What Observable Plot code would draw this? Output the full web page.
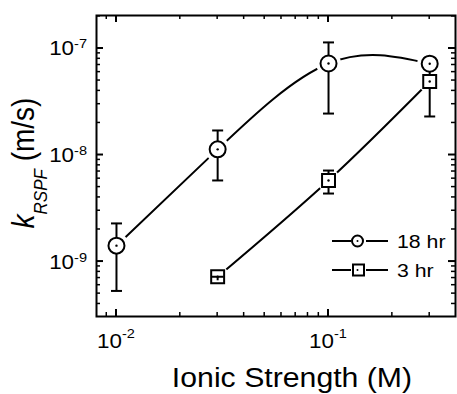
<!DOCTYPE html>
<html><head><meta charset="utf-8">
<script src="https://cdn.jsdelivr.net/npm/d3@7"></script>
<script src="https://cdn.jsdelivr.net/npm/@observablehq/plot@0.6"></script>
<style>body{margin:0;background:#fff}</style>
</head><body><div id="chart"></div>
<script>
// Data
const ionic18 = [0.01, 0.03, 0.1, 0.3];
const k18 = [1.41e-9, 1.13e-8, 7.23e-8, 7.2e-8];
const k18lo = [5.3e-10, 5.77e-9, 2.45e-8, 6.4e-8];
const k18hi = [2.28e-9, 1.70e-8, 1.14e-7, 8.2e-8];
const ionic3 = [0.03, 0.1, 0.3];
const k3 = [7.2e-10, 5.77e-9, 4.9e-8];
const k3lo = [6.6e-10, 4.35e-9, 2.3e-8];
const k3hi = [7.2e-10, 7.15e-9, 7.4e-8];
const seriesNames = ["18 hr", "3 hr"];
const xMajor = [0.01, 0.1];
const xMajorExp = ["-2", "-1"];
const xMinor = [0.009, 0.02, 0.03, 0.04, 0.05, 0.06, 0.07, 0.08, 0.09, 0.2, 0.3];
const yMajor = [1e-9, 1e-8, 1e-7];
const yMajorExp = ["-9", "-8", "-7"];
const yMinor = [4e-10, 5e-10, 6e-10, 7e-10, 8e-10, 9e-10,
  2e-9, 3e-9, 4e-9, 5e-9, 6e-9, 7e-9, 8e-9, 9e-9,
  2e-8, 3e-8, 4e-8, 5e-8, 6e-8, 7e-8, 8e-8, 9e-8, 2e-7];

const s18 = ionic18.map((x, i) => ({x, k: k18[i], lo: k18lo[i], hi: k18hi[i], s: seriesNames[0]}));
const s3 = ionic3.map((x, i) => ({x, k: k3[i], lo: k3lo[i], hi: k3hi[i], s: seriesNames[1]}));
const all = [...s18, ...s3];
const inner = all.filter(d => d.hi / d.lo < 1.15); // error bars smaller than the marker show on top

const W = 457, H = 394, ML = 96, MR = 2, MT = 15, MB = 78;
const SX = 1.12;
const FONT = "'Liberation Sans', Arial, Helvetica, sans-serif";

const cap = {draw(ctx) { ctx.moveTo(-5.5, 0); ctx.lineTo(5.5, 0); }};
const capW = {draw(ctx) { ctx.moveTo(-6, 0); ctx.lineTo(6, 0); }};

const plot = Plot.plot({
  width: W, height: H,
  marginLeft: ML, marginRight: MR, marginTop: MT, marginBottom: MB,
  x: {type: "log", domain: [0.00805, 0.397], axis: null},
  y: {type: "log", domain: [3.05e-10, 2.04e-7], axis: null},
  style: {fontFamily: FONT, background: "white"},
  marks: [
    Plot.line(s18, {x: "x", y: "k", curve: "natural", stroke: "black", strokeWidth: 2}),
    Plot.line(s3, {x: "x", y: "k", curve: "natural", stroke: "black", strokeWidth: 2}),
    Plot.dot(s18, {x: "x", y: "k", r: 12.5, fill: "white", stroke: "none"}),
    Plot.dot(s3, {x: "x", y: "k", r: 11.5, fill: "white", stroke: "none"}),
    Plot.ruleX(all, {x: "x", y1: "lo", y2: "hi", stroke: "black", strokeWidth: 2}),
    Plot.dot(all, {x: "x", y: "lo", symbol: cap, fill: "none", stroke: "black", strokeWidth: 2}),
    Plot.dot(all, {x: "x", y: "hi", symbol: cap, fill: "none", stroke: "black", strokeWidth: 2}),
    Plot.dot(s18, {x: "x", y: "k", symbol: "circle", r: 8, fill: "white", stroke: "black", strokeWidth: 2}),
    Plot.dot(s3, {x: "x", y: "k", symbol: "square", r: 7.3, fill: "white", stroke: "black", strokeWidth: 2}),
    Plot.ruleX(inner, {x: "x", y1: "lo", y2: "hi", stroke: "black", strokeWidth: 2}),
    Plot.dot(inner, {x: "x", y: "hi", symbol: capW, fill: "none", stroke: "black", strokeWidth: 2}),
    Plot.dot(all, {x: "x", y: "k", r: 1.2, fill: "black", stroke: "none"}),
    Plot.frame({stroke: "black", strokeWidth: 2})
  ]
});

const svg = d3.select(plot);
const sx = plot.scale("x"), sy = plot.scale("y");
const g = svg.append("g").attr("stroke", "black");
const L = ML, R = W - MR, T = MT, B = H - MB;
function xt(v, len, sw) {
  const px = sx.apply(v);
  g.append("line").attr("x1", px).attr("x2", px).attr("y1", B).attr("y2", B - len).attr("stroke-width", sw);
  g.append("line").attr("x1", px).attr("x2", px).attr("y1", T).attr("y2", T + len).attr("stroke-width", sw);
}
function yt(v, len, sw) {
  const py = sy.apply(v);
  g.append("line").attr("y1", py).attr("y2", py).attr("x1", L).attr("x2", L + len).attr("stroke-width", sw);
  g.append("line").attr("y1", py).attr("y2", py).attr("x1", R).attr("x2", R - len).attr("stroke-width", sw);
}
xMinor.forEach(v => xt(v, 4, 1.5));
xMajor.forEach(v => xt(v, 7, 2));
yMinor.forEach(v => yt(v, 4, 1.5));
yMajor.forEach(v => yt(v, 7, 2));

const tg = svg.append("g").attr("font-family", FONT).attr("fill", "black");
xMajor.forEach((v, i) => {
  const t = tg.append("text").attr("text-anchor", "middle")
    .attr("transform", `translate(${sx.apply(v)},348) scale(${SX},1)`);
  t.append("tspan").attr("font-size", 20).text("10");
  t.append("tspan").attr("font-size", 13).attr("dy", -10).text(xMajorExp[i]);
});
yMajor.forEach((v, i) => {
  const t = tg.append("text").attr("text-anchor", "end")
    .attr("transform", `translate(87,${sy.apply(v) + 7.5}) scale(${SX},1)`);
  t.append("tspan").attr("font-size", 20).text("10");
  t.append("tspan").attr("font-size", 13).attr("dy", -7).text(yMajorExp[i]);
});
tg.append("text").attr("text-anchor", "middle").attr("font-size", 27)
  .attr("transform", `translate(292,387) scale(${SX},1)`).text("Ionic Strength (M)");
const yt2 = tg.append("text").attr("text-anchor", "middle").attr("font-size", 28)
  .attr("transform", `translate(34,163) scale(${SX},1) rotate(-90)`);
yt2.append("tspan").attr("font-style", "italic").text("k");
yt2.append("tspan").attr("font-style", "italic").attr("font-size", 17).attr("dy", 12).text("RSPF");
yt2.append("tspan").attr("dy", -12).text(" (m/s)");

// Legend
const lg = svg.append("g").attr("stroke", "black").attr("stroke-width", 2);
[[241, "circle"], [270, "square"]].forEach(([y, sym], i) => {
  lg.append("line").attr("x1", 332).attr("x2", 351).attr("y1", y).attr("y2", y);
  lg.append("line").attr("x1", 366).attr("x2", 388).attr("y1", y).attr("y2", y);
  if (sym === "circle") lg.append("circle").attr("cx", 357.5).attr("cy", y).attr("r", 5.5).attr("fill", "white");
  else lg.append("rect").attr("x", 353).attr("y", y - 5.5).attr("width", 11).attr("height", 11).attr("fill", "white");
  lg.append("circle").attr("cx", 357.5).attr("cy", y).attr("r", 1).attr("fill", "black").attr("stroke", "none");
  tg.append("text").attr("text-anchor", "start").attr("font-size", 19)
    .attr("transform", `translate(397,${y + 7}) scale(${SX},1)`).text(seriesNames[i]);
});

document.getElementById("chart").appendChild(plot);
</script>
</body></html>
